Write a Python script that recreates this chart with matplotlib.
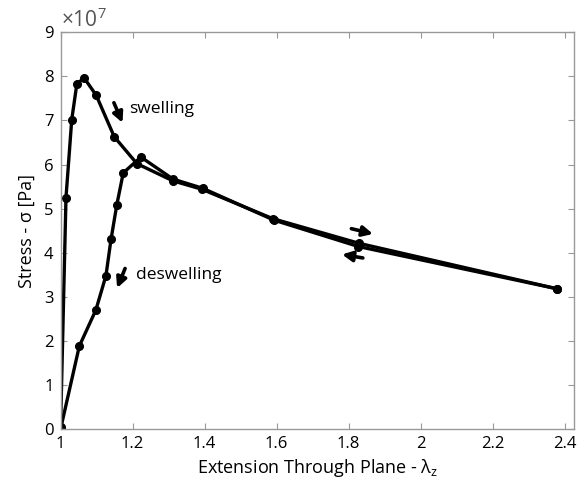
import matplotlib
matplotlib.use("Agg")
import matplotlib.pyplot as plt
import numpy as np

# swelling branch (loading)
swell_x = [1.0, 1.015, 1.031, 1.045, 1.065, 1.099, 1.149, 1.212, 1.312, 1.392, 1.59, 1.83, 2.379]
swell_y = [0.05, 5.25, 7.02, 7.82, 7.97, 7.57, 6.63, 6.02, 5.63, 5.44, 4.77, 4.21, 3.18]

# deswelling branch (unloading)
deswell_x = [2.379, 1.827, 1.592, 1.395, 1.312, 1.223, 1.174, 1.156, 1.140, 1.126, 1.098, 1.052, 1.0]
deswell_y = [3.18, 4.14, 4.74, 5.46, 5.67, 6.17, 5.81, 5.08, 4.30, 3.48, 2.70, 1.88, 0.0]

x_ticks = [1, 1.2, 1.4, 1.6, 1.8, 2, 2.2, 2.4]
x_tick_labels = ["1", "1.2", "1.4", "1.6", "1.8", "2", "2.2", "2.4"]
y_ticks = list(range(0, 10))

plt.rcParams['font.family'] = ['Open Sans', 'DejaVu Sans']
plt.rcParams['mathtext.default'] = 'regular'

fig = plt.figure(figsize=(5.77, 4.94), dpi=100)
ax = fig.add_axes([0.105, 0.1316, 0.89, 0.803])

ax.plot(swell_x, swell_y, color='black', lw=2.4, marker='o', ms=5.5)
ax.plot(deswell_x, deswell_y, color='black', lw=2.4, marker='o', ms=5.5)

ax.set_xlim(1, 2.426)
ax.set_ylim(0, 9)
ax.set_xticks(x_ticks)
ax.set_xticklabels(x_tick_labels)
ax.set_yticks(y_ticks)

ax.tick_params(direction='in', top=True, right=True, length=4,
               labelsize=12, color='#999999', pad=5)
for s in ax.spines.values():
    s.set_color('#999999')
    s.set_linewidth(1.0)

ax.set_xlabel(r"Extension Through Plane - $\lambda_z$", fontsize=13, labelpad=4)
ax.set_ylabel("Stress - σ [Pa]", fontsize=13, labelpad=6)
ax.text(0.0, 1.0, r"×$10^7$", transform=ax.transAxes, fontsize=15,
        color='#555555', ha='left', va='bottom')

# annotations
arrow = dict(arrowstyle='-|>', lw=2.6, color='black', mutation_scale=15)
ax.annotate("", xy=(1.175, 6.89), xytext=(1.145, 7.46), arrowprops=arrow)
ax.text(1.19, 7.25, "swelling", fontsize=12.5, va='center')
ax.annotate("", xy=(1.154, 3.14), xytext=(1.182, 3.70), arrowprops=arrow)
ax.text(1.21, 3.50, "deswelling", fontsize=12.5, va='center')
ax.annotate("", xy=(1.875, 4.41), xytext=(1.80, 4.56), arrowprops=arrow)
ax.annotate("", xy=(1.774, 3.97), xytext=(1.847, 3.87), arrowprops=arrow)

plt.savefig("out.png", dpi=100)
